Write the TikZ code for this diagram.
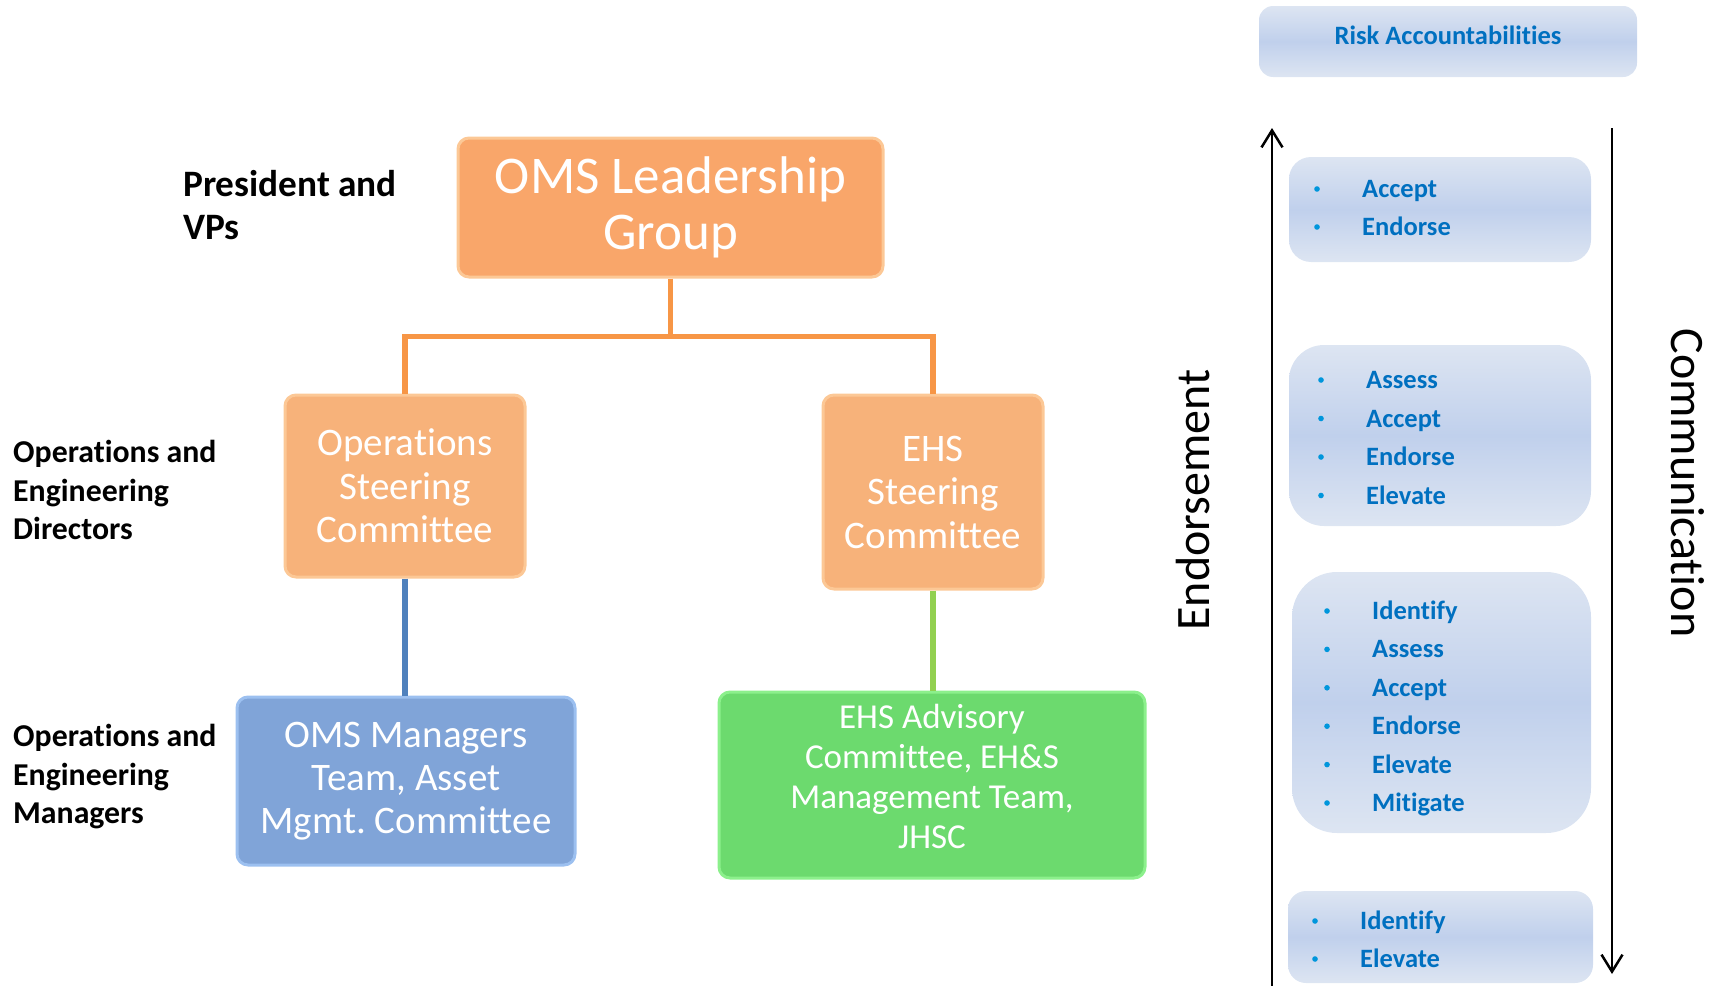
\documentclass[tikz,border=0pt]{standalone}
\usepackage{fontspec}
\setmainfont{Carlito}[Ligatures=NoCommon,Contextuals=NoAlternate]
\usetikzlibrary{arrows.meta}
\definecolor{orfill}{RGB}{249,166,106}
\definecolor{orfillb}{RGB}{247,178,122}
\definecolor{orrim}{RGB}{252,200,150}
\definecolor{orline}{RGB}{247,150,70}
\definecolor{blfill}{RGB}{128,164,216}
\definecolor{blrim}{RGB}{156,192,240}
\definecolor{blline}{RGB}{79,129,189}
\definecolor{grfill}{RGB}{108,218,110}
\definecolor{grrim}{RGB}{140,240,140}
\definecolor{grline}{RGB}{146,208,80}
\definecolor{rskA}{RGB}{221,229,242}
\definecolor{rskB}{RGB}{192,208,236}
\definecolor{rsktext}{RGB}{0,112,192}
\definecolor{bulc}{RGB}{0,150,220}
\begin{document}
\begin{tikzpicture}[x=1pt,y=-1pt,
  box/.style={line width=3pt, rounded corners=11pt, inner sep=0pt, text=white, align=center},
  orbox/.style={box, draw=orrim, fill=orfill},
  orboxb/.style={box, draw=orrim, fill=orfillb},
  blbox/.style={box, draw=blrim, fill=blfill},
  grbox/.style={box, draw=grrim, fill=grfill},
  conn/.style={line width=5.5pt},
  rbox/.style={top color=rskA, bottom color=rskA, middle color=rskB, inner sep=0pt},
  rtext/.style={text=rsktext, font=\fontsize{26.5}{30}\selectfont\bfseries, inner sep=0pt},
  lab/.style={font=\fontsize{31.8}{38.5}\selectfont\bfseries, align=left, inner sep=0pt, anchor=north west},
  arr/.style={line width=2.5pt, -{Straight Barb[length=17pt,width=21pt,line width=2.5pt]}},
  side/.style={font=\fontsize{48}{52}\selectfont, inner sep=0pt}
]
\useasboundingbox (0,0) rectangle (1721,985);

% left labels
\node[lab, font=\fontsize{37.3}{43.5}\selectfont\bfseries] (l1) at (183,170) {President and\\VPs};
\node[lab] (l2) at (13,440) {Operations and\\Engineering\\Directors};
\node[lab] (l3) at (13,724) {Operations and\\Engineering\\Managers};

% org boxes
\node[orbox, minimum width=425pt, minimum height=139pt, font=\fontsize{53}{56}\selectfont] (oms) at (670.5,207.5) {OMS Leadership\\Group};
\node[orboxb, minimum width=240pt, minimum height=182pt, font=\fontsize{39}{43.5}\selectfont] (ops) at (405,486) {Operations\\Steering\\Committee};
\node[orboxb, minimum width=220pt, minimum height=194pt, font=\fontsize{39}{43.5}\selectfont] (ehs) at (933,492) {EHS\\Steering\\Committee};
\node[blbox, minimum width=338pt, minimum height=168pt, font=\fontsize{39}{43}\selectfont] (mgr) at (406,781) {OMS Managers\\Team, Asset\\Mgmt.\ Committee};
\node[grbox, minimum width=426pt, minimum height=186pt] (adv) at (932,785) {};
\node[text=white, align=center, inner sep=0pt, font=\fontsize{35}{40}\selectfont] (advt) at (932,776) {EHS Advisory\\Committee, EH\&S\\Management Team,\\JHSC};

% connectors
\draw[conn, draw=orline] (oms.south) -- ++(0,58) coordinate (split) -| (ops.north);
\draw[conn, draw=orline] (split) -| (ehs.north);
\draw[conn, draw=blline] (ops.south) -- (ops.south |- mgr.north);
\draw[conn, draw=grline] (ehs.south) -- (ehs.south |- adv.north);

% risk side
\node[rbox, rounded corners=14pt, minimum width=378pt, minimum height=71pt] (hdr) at (1448,41.5) {};
\node[rtext] (hdrt) at (1448,35) {Risk Accountabilities};

\node[rbox, rounded corners=22pt, minimum width=302pt, minimum height=105pt] (r1) at (1440,209.5) {};
\node[rbox, rounded corners=35pt, minimum width=302pt, minimum height=181pt] (r2) at (1440,435.5) {};
\node[rbox, rounded corners=45pt, minimum width=299pt, minimum height=261pt] (r3) at (1441.5,702.5) {};
\node[rbox, rounded corners=18pt, minimum width=305pt, minimum height=92pt] (r4) at (1440.5,937) {};

\foreach \t [count=\k] in {Accept,Endorse}{
  \node[rtext, anchor=base west] (ra\k) at (1362,{189+38*(\k-1)+8.5}) {\t};
  \fill[bulc] (1317,{189+38*(\k-1)}) circle (2.8pt);
}
\foreach \t [count=\k] in {Assess,Accept,Endorse,Elevate}{
  \node[rtext, anchor=base west] (rb\k) at (1366,{380+38.5*(\k-1)+8.5}) {\t};
  \fill[bulc] (1321,{380+38.5*(\k-1)}) circle (2.8pt);
}
\foreach \t [count=\k] in {Identify,Assess,Accept,Endorse,Elevate,Mitigate}{
  \node[rtext, anchor=base west] (rc\k) at (1372,{611+38.4*(\k-1)+8.5}) {\t};
  \fill[bulc] (1327,{611+38.4*(\k-1)}) circle (2.8pt);
}
\foreach \t [count=\k] in {Identify,Elevate}{
  \node[rtext, anchor=base west] (rd\k) at (1360,{921+38*(\k-1)+8.5}) {\t};
  \fill[bulc] (1315,{921+38*(\k-1)}) circle (2.8pt);
}

% arrows
\coordinate (eb) at (1272,990);
\coordinate (et) at (1272,128);
\draw[arr] (eb) -- (et);
\coordinate (ct) at (1612,128);
\coordinate (cb) at (1612,974);
\draw[arr] (ct) -- (cb);

\node[side, rotate=90] (endo) at (1193,500) {Endorsement};
\node[side, rotate=-90] (comm) at (1688,483) {Communication};
\end{tikzpicture}
\end{document}
